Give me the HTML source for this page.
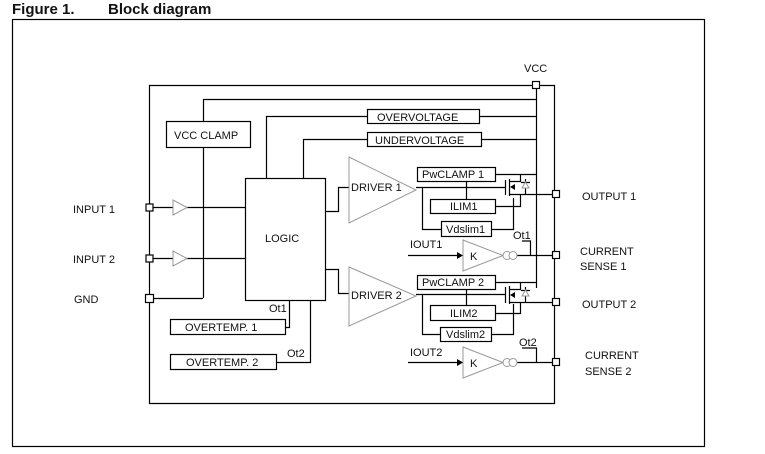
<!DOCTYPE html>
<html><head><meta charset="utf-8"><style>
html,body{margin:0;padding:0;background:#fff;}
svg{display:block;}
text{font-family:"Liberation Sans",Arial,sans-serif;font-size:11px;fill:#111;}
</style></head><body>
<svg width="765" height="454" viewBox="0 0 765 454" xmlns="http://www.w3.org/2000/svg">
<text x="12" y="14" style="font-size:15px;font-weight:bold">Figure 1.</text>
<text x="108" y="14" style="font-size:15px;font-weight:bold">Block diagram</text>
<rect x="12.5" y="19.5" width="692" height="427" fill="none" stroke="#000" stroke-width="1.2"/>
<g fill="none" stroke="#000" stroke-width="1.2">
<path d="M149.5 85.5 H554.5 V403.5 H149.5 Z"/>
<path d="M536.5 85 V288"/>
<path d="M203.5 298 V99.5 H536"/>
<path d="M266.5 178 V116.5 H367 M479 116.5 H536"/>
<path d="M303.5 178 V139.5 H367 M481 139.5 H536"/>
<path d="M149 207.5 H245 M149 258.5 H245 M149 298.5 H203"/>
<path d="M325 211.5 H338.5 V187.5 H349 M325 269.5 H338.5 V293.5 H349"/>
<path d="M285 327.5 H289.5 V300 M276 362.5 H310.5 V300"/>
<path d="M416 187.5 H505"/>
<path d="M422.5 187.5 V229.5 H441 M491 229.5 H513.5 V198"/>
<path d="M466.5 181 V199 M495 206.5 H520.5 V194"/>
<path d="M495 174.5 H537"/>
<path d="M505.5 180 V195 M509.5 179 V196 M509.5 181.5 H520.5 V174 M509.5 194.5 H556"/>
<path d="M525.5 179 V194 M521 182.5 H530"/>
<path d="M408 255.5 H457 M512 255.5 H556 M530.5 255 V241 H522"/>
<path d="M416 294.5 H505"/>
<path d="M422.5 294.5 V334.5 H440 M491 334.5 H513.5 V304"/>
<path d="M466.5 289 V305 M495 313.5 H520.5 V302"/>
<path d="M495 282.5 H536.5"/>
<path d="M505.5 287 V303 M509.5 286 V304 M509.5 289.5 H520.5 V282 M509.5 302.5 H556"/>
<path d="M525.5 287 V302 M521 290.5 H530"/>
<path d="M408 362.5 H457 M512 362.5 H556 M536.5 362 V348 H522"/>
</g>
<g fill="#fff" stroke="#000" stroke-width="1.2">
<rect x="166.5" y="121.5" width="84" height="26"/>
<rect x="367.5" y="109.5" width="112" height="14"/>
<rect x="367.5" y="132.5" width="114" height="14"/>
<rect x="245.5" y="178.5" width="80" height="122"/>
<rect x="170.5" y="319.5" width="115" height="15"/>
<rect x="170.5" y="354.5" width="106" height="15"/>
<rect x="417.5" y="167.5" width="78" height="14"/>
<rect x="430.5" y="199.5" width="65" height="14"/>
<rect x="441.5" y="221.5" width="50" height="15"/>
<rect x="417.5" y="275.5" width="78" height="14"/>
<rect x="430.5" y="305.5" width="65" height="15"/>
<rect x="440.5" y="327.5" width="51" height="14"/>
<rect x="532.5" y="81.5" width="7" height="7"/>
<rect x="146" y="204" width="7" height="7"/>
<rect x="146" y="255" width="7" height="7"/>
<rect x="145.5" y="294.5" width="8" height="8"/>
<rect x="552.5" y="190.5" width="7" height="7"/>
<rect x="552.5" y="251.5" width="7" height="7"/>
<rect x="552.5" y="298.5" width="7" height="7"/>
<rect x="552.5" y="358.5" width="7" height="7"/>
</g>
<g fill="#fff" stroke="#999" stroke-width="1">
<path d="M173 200 L187 207.5 L173 215 Z"/>
<path d="M173 251 L187 258.5 L173 266 Z"/>
<path d="M349 157 L416 190 L349 223 Z"/>
<path d="M349 267 L416 296 L349 326 Z"/>
<path d="M463 240 L503 255.5 L463 271 Z"/>
<path d="M463 347 L503 362.5 L463 378 Z"/>
<circle cx="507" cy="255.5" r="4"/><circle cx="513" cy="255.5" r="4"/>
<circle cx="507" cy="362.5" r="4"/><circle cx="513" cy="362.5" r="4"/>
<path d="M522 188 L525.5 182 L529 188 Z M522 296 L525.5 290 L529 296 Z"/>
</g>
<g fill="#000">
<path d="M457 252 L463 255.5 L457 259 Z M457 359 L463 362.5 L457 366 Z"/>
<path d="M510 187 L515 184 L515 190 Z M510 295 L515 292 L515 298 Z"/>
</g>
<text x="524" y="72">VCC</text>
<text x="174" y="139">VCC CLAMP</text>
<text x="377" y="121">OVERVOLTAGE</text>
<text x="375" y="144">UNDERVOLTAGE</text>
<text x="265" y="242">LOGIC</text>
<text x="73" y="213">INPUT 1</text>
<text x="73" y="263">INPUT 2</text>
<text x="74" y="303">GND</text>
<text x="351" y="191">DRIVER 1</text>
<text x="351" y="299">DRIVER 2</text>
<text x="422" y="178">PwCLAMP 1</text>
<text x="422" y="286">PwCLAMP 2</text>
<text x="450" y="210">ILIM1</text>
<text x="450" y="317">ILIM2</text>
<text x="446" y="233">Vdslim1</text>
<text x="446" y="338">Vdslim2</text>
<text x="410" y="248">IOUT1</text>
<text x="410" y="356">IOUT2</text>
<text x="470" y="260">K</text>
<text x="470" y="367">K</text>
<text x="513" y="239">Ot1</text>
<text x="519" y="346">Ot2</text>
<text x="269" y="312">Ot1</text>
<text x="287" y="357">Ot2</text>
<text x="185" y="331">OVERTEMP. 1</text>
<text x="186" y="366">OVERTEMP. 2</text>
<text x="582" y="200">OUTPUT 1</text>
<text x="580" y="255">CURRENT</text>
<text x="580" y="270">SENSE 1</text>
<text x="582" y="308">OUTPUT 2</text>
<text x="585" y="359">CURRENT</text>
<text x="585" y="375">SENSE 2</text>
</svg>
</body></html>
